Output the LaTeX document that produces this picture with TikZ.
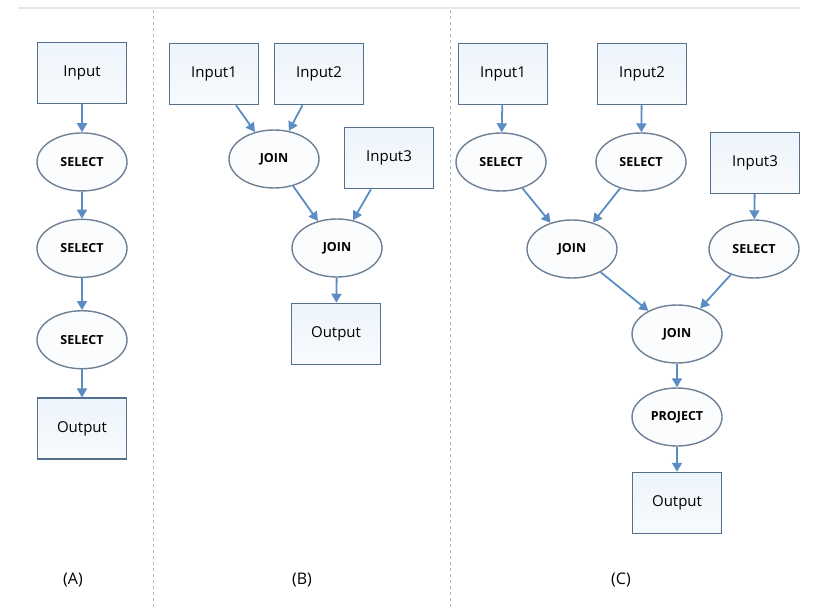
\documentclass[tikz,border=0pt]{standalone}
\usepackage{fontspec}
\setmainfont{Open Sans}
\usepackage{xcolor}
\usepackage{tikz}
\usetikzlibrary{shapes.geometric, arrows.meta, positioning}

\definecolor{boxline}{HTML}{55708C}
\definecolor{boxfill}{HTML}{E2EDF9}
\definecolor{opline}{HTML}{6E8096}
\definecolor{flowblue}{HTML}{5B8DC4}
\definecolor{sepgray}{HTML}{B4BAC2}

\begin{document}
\begin{tikzpicture}[x=1pt, y=1pt,
        box/.style={draw=boxline, line width=1.5pt, top color=boxfill!60, bottom color=boxfill!25, minimum width=89pt, minimum height=61pt, inner sep=0pt, font=\fontsize{15}{18}\selectfont},
        op/.style={ellipse, draw=opline, line width=1.4pt, fill=boxfill!15, minimum width=90pt, minimum height=58pt, inner sep=0pt, font=\bfseries\fontsize{12.5}{15}\selectfont},
        flow/.style={-{Triangle[width=10pt, length=9pt]}, draw=flowblue, line width=1.8pt},
        sep/.style={draw=sepgray, line width=1pt, dash pattern=on 3pt off 3pt},
        caption/.style={font=\fontsize{16}{19}\selectfont}
    ]
    \useasboundingbox (0,0) rectangle (813,-609);

    \draw[gray!18, line width=2pt] (18,-8) -- (800,-8);
    \draw[sep] (153,-10) -- (153,-609);
    \draw[sep] (450,-10) -- (450,-609);

    % (A)
    \node[box] (inA) at (82,-73) {Input};
    \node[op, below=28pt of inA] (selA1) {SELECT};
    \node[op, below=27pt of selA1] (selA2) {SELECT};
    \node[op, below=32pt of selA2] (selA3) {SELECT};
    \node[box, below=28pt of selA3] (outA) {Output};
    \node[caption] (capA) at (73,-580) {(A)};

    \draw[flow] (inA) -- (selA1);
    \draw[flow] (selA1) -- (selA2);
    \draw[flow] (selA2) -- (selA3);
    \draw[flow] (selA3) -- (outA);

    % (B)
    \node[box] (inB1) at (214,-74) {Input1};
    \node[box] (inB2) at (319,-74) {Input2};
    \node[op] (joinB1) at (274,-159) {JOIN};
    \node[box] (inB3) at (389,-158) {Input3};
    \node[op] (joinB2) at (337,-248) {JOIN};
    \node[box] (outB) at (336,-334) {Output};
    \node[caption] (capB) at (302,-580) {(B)};

    \draw[flow] (inB1) -- (joinB1);
    \draw[flow] (inB2) -- (joinB1);
    \draw[flow] (joinB1) -- (joinB2);
    \draw[flow] (inB3) -- (joinB2);
    \draw[flow] (joinB2) -- (outB);

    % (C)
    \node[box] (inC1) at (503,-74) {Input1};
    \node[box] (inC2) at (642,-74) {Input2};
    \node[op] (selC1) at (501,-162) {SELECT};
    \node[op] (selC2) at (641,-162) {SELECT};
    \node[box] (inC3) at (755,-163) {Input3};
    \node[op] (joinC1) at (572,-249) {JOIN};
    \node[op] (selC3) at (754,-249) {SELECT};
    \node[op] (joinC2) at (677,-334) {JOIN};
    \node[op] (projC) at (677,-417) {PROJECT};
    \node[box] (outC) at (677,-503) {Output};
    \node[caption] (capC) at (621,-580) {(C)};

    \draw[flow] (inC1) -- (selC1);
    \draw[flow] (inC2) -- (selC2);
    \draw[flow] (selC1) -- (joinC1);
    \draw[flow] (selC2) -- (joinC1);
    \draw[flow] (inC3) -- (selC3);
    \draw[flow] (joinC1) -- (joinC2);
    \draw[flow] (selC3) -- (joinC2);
    \draw[flow] (joinC2) -- (projC);
    \draw[flow] (projC) -- (outC);
\end{tikzpicture}
\end{document}
